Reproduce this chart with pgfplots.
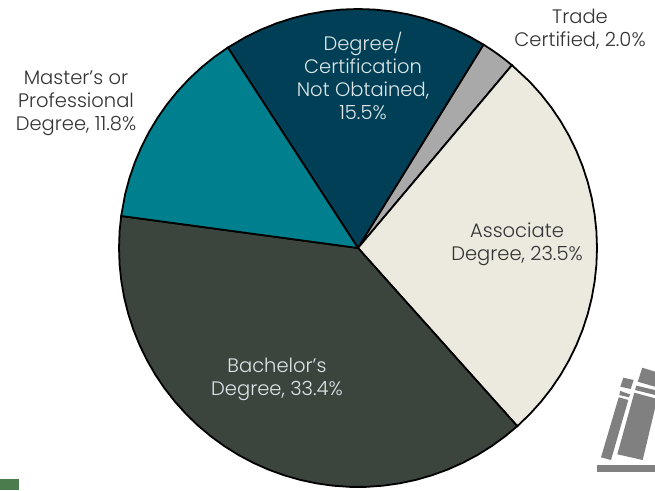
\documentclass[border=0pt]{standalone}
\usepackage{pgfplots}
\pgfplotsset{compat=1.18}
\usepackage{fontspec}
\setmainfont{Poppins Light}
\definecolor{degree}{HTML}{003F55}
\definecolor{trade}{HTML}{A9A9A9}
\definecolor{assoc}{HTML}{ECEADF}
\definecolor{bach}{HTML}{3C443E}
\definecolor{master}{HTML}{00808F}
\definecolor{icon}{HTML}{808080}
\definecolor{txt}{HTML}{333333}
\definecolor{lighttxt}{HTML}{DCE6E8}
\definecolor{tab}{HTML}{4A7C4E}
\tikzset{lab/.style={font=\fontsize{19.5}{23}\selectfont, align=center, text=txt, inner sep=0pt}}
\begin{document}
\begin{tikzpicture}
\begin{axis}[
    scale only axis, width=655pt, height=490pt,
    xmin=-358, xmax=297, ymin=-242, ymax=248,
    hide axis, clip=true,
]
% keep the full page in the bounding box
\path (rel axis cs:0,0) rectangle (rel axis cs:1,1);
% slices: angle in degrees, radius in px, values 15.5, 2.0, 23.5, 33.4, 11.8
\addplot[data cs=polar, fill=degree, draw=black, line width=1.8pt] coordinates {
 (0,0)(58.3,239)(62,239)(66,239)(70,239)(74,239)(78,239)(82,239)(86,239)(90,239)(94,239)(98,239)(102,239)(106,239)(110,239)(114,239)(118,239)(123,239)
} -- cycle;
\addplot[data cs=polar, fill=trade, draw=black, line width=1.8pt] coordinates {
 (0,0)(49.9,239)(52,239)(54,239)(56,239)(58.3,239)
} -- cycle;
\addplot[data cs=polar, fill=assoc, draw=black, line width=1.8pt] coordinates {
 (0,0)(-48.2,239)(-44,239)(-40,239)(-36,239)(-32,239)(-28,239)(-24,239)(-20,239)(-16,239)(-12,239)(-8,239)(-4,239)(0,239)(4,239)(8,239)(12,239)(16,239)(20,239)(24,239)(28,239)(32,239)(36,239)(40,239)(44,239)(49.9,239)
} -- cycle;
\addplot[data cs=polar, fill=bach, draw=black, line width=1.8pt] coordinates {
 (0,0)(172.3,239)(176,239)(180,239)(184,239)(188,239)(192,239)(196,239)(200,239)(204,239)(208,239)(212,239)(216,239)(220,239)(224,239)(228,239)(232,239)(236,239)(240,239)(244,239)(248,239)(252,239)(256,239)(260,239)(264,239)(268,239)(272,239)(276,239)(280,239)(284,239)(288,239)(292,239)(296,239)(300,239)(304,239)(308,239)(311.8,239)
} -- cycle;
\addplot[data cs=polar, fill=master, draw=black, line width=1.8pt] coordinates {
 (0,0)(123,239)(127,239)(131,239)(135,239)(139,239)(143,239)(147,239)(151,239)(155,239)(159,239)(163,239)(167,239)(172.3,239)
} -- cycle;
% book icon, px offsets from pie centre
\addplot[fill=icon, draw=none] coordinates {(265.3,-129.7)(275.7,-132)(272.7,-141)(262.3,-138.7)} -- cycle;
\addplot[fill=icon, draw=none] coordinates {(262.3,-143)(272,-146.3)(271,-149.3)(261.3,-147)} -- cycle;
\addplot[fill=icon, draw=none] coordinates {(260.7,-149.3)(270.3,-152)(253,-212)(243,-209.3)} -- cycle;
\addplot[fill=icon, draw=none] coordinates {(284.3,-119.7)(297,-123.7)(297,-138.7)(279.7,-133.7)} -- cycle;
\addplot[fill=icon, draw=none] coordinates {(278.3,-137.7)(297,-142)(297,-147)(277,-142)} -- cycle;
\addplot[fill=icon, draw=none] coordinates {(276.3,-144.7)(297,-150.3)(297,-160.3)(284.7,-212)(259.3,-206.3)} -- cycle;
\addplot[fill=icon, draw=none] coordinates {(239.3,-217)(297,-217)(297,-223.7)(239.3,-223.7)} -- cycle;
% green tab in the corner
\addplot[fill=tab, draw=none] coordinates {(-358,-231)(-339,-231)(-339,-242)(-358,-242)} -- cycle;
% labels
\node[lab, text=lighttxt] at (axis cs:5,172) {Degree/\\Certification\\Not Obtained,\\15.5\%};
\node[lab] at (axis cs:222,219) {Trade\\Certified, 2.0\%};
\node[lab] at (axis cs:159,4) {Associate\\Degree, 23.5\%};
\node[lab, text=lighttxt] at (axis cs:-81,-131) {Bachelor{\char39}s\\Degree, 33.4\%};
\node[lab] at (axis cs:-282,145) {Master{\char39}s or\\Professional\\Degree, 11.8\%};
\node[lab, overlay, anchor=base] at (axis cs:38,252) {y};
\end{axis}
\end{tikzpicture}
\end{document}
